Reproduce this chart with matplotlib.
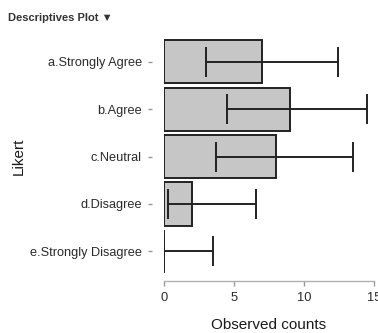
import matplotlib.pyplot as plt
import numpy as np

plt.rcParams["font.family"] = ["Liberation Sans", "DejaVu Sans"]

# Likert responses, observed counts and their confidence intervals
categories = ["a.Strongly Agree", "b.Agree", "c.Neutral", "d.Disagree", "e.Strongly Disagree"]
counts = [7, 9, 8, 2, 0]
ci_lower = [3.0, 4.5, 3.75, 0.25, 0.0]
ci_upper = [12.45, 14.5, 13.5, 6.55, 3.5]
x_ticks = [0, 5, 10, 15]

fig = plt.figure(figsize=(3.78, 3.33), dpi=100)
ax = fig.add_axes([0.4339, 0.174, 0.555, 0.712])

y = np.arange(len(categories))[::-1]
counts_arr = np.array(counts)
err = [counts_arr - np.array(ci_lower), np.array(ci_upper) - counts_arr]

ax.barh(y, counts, height=0.91, color="#c6c6c6", edgecolor="#222222", linewidth=1.4)
ax.errorbar(counts, y, xerr=err, fmt="none", ecolor="#222222", elinewidth=1.4,
            capsize=10.5, capthick=1.4)

ax.set_xlim(0, 15)
ax.set_ylim(-0.5, 4.5)
ax.set_xticks(x_ticks)
ax.set_xticklabels([str(t) for t in x_ticks])
ax.set_yticks(y)
ax.set_yticklabels(categories)

for side in ["top", "right"]:
    ax.spines[side].set_visible(False)
ax.spines["left"].set_position(("outward", 9))
ax.spines["left"].set_visible(False)
ax.spines["bottom"].set_position(("outward", 4.5))
ax.spines["bottom"].set_color("#b0b0b0")
ax.spines["bottom"].set_linewidth(1.0)
ax.spines["bottom"].set_bounds(0, 15)

ax.tick_params(axis="x", colors="#999999", length=3.5, width=1.0, labelsize=9.3,
               labelcolor="#2a2a2a", pad=4)
ax.tick_params(axis="y", colors="#999999", length=3, width=1.0, labelsize=9.2,
               labelcolor="#2a2a2a", pad=4)

ax.set_xlabel("Observed counts", fontsize=11, color="#1a1a1a", labelpad=10)
ax.set_ylabel("Likert", fontsize=11, color="#1a1a1a", labelpad=3)

fig.text(0.021, 0.945, "Descriptives Plot \u25BC", fontsize=8.0, fontweight="bold",
         color="#333333", ha="left", va="center")

fig.savefig("out.png", dpi=100)
